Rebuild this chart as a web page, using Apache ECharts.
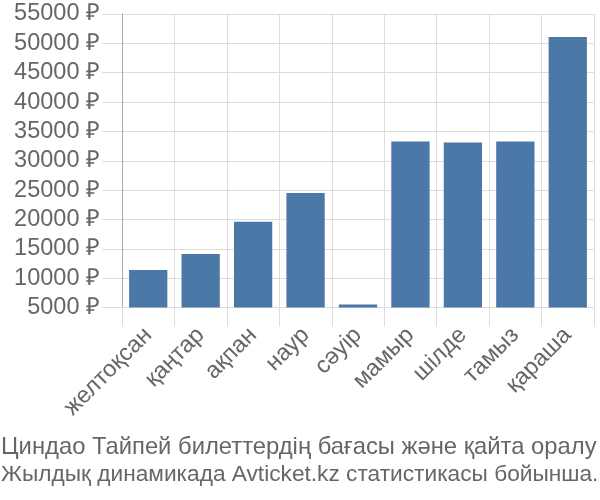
<!DOCTYPE html>
<html><head><meta charset="utf-8">
<script src="https://cdn.jsdelivr.net/npm/echarts@6/dist/echarts.min.js"></script>
<style>html,body{margin:0;padding:0;background:#fff}#c{width:600px;height:500px}</style>
</head><body><div id="c"></div>
<script>
const categories = ['желтоқсан','қаңтар','ақпан','наур','сәуір','мамыр','шілде','тамыз','қараша'];
const prices = [11400, 14100, 19600, 24500, 5500, 33300, 33100, 33300, 51100];
const yMin = 5000, yMax = 55000, yStep = 5000;
const titleLines = ['Циндао Тайпей билеттердің бағасы және қайта оралу', 'Жылдық динамикада Avticket.kz статистикасы бойынша.'];

const FONT = 'Liberation Sans, Arial, sans-serif';
const chart = echarts.init(document.getElementById('c'));
chart.setOption({
  animation: false,
  textStyle: { fontFamily: FONT },
  title: [
    { text: titleLines[0], left: 1, top: 433, padding: 0,
      textStyle: { fontSize: 23.8, fontWeight: 'normal', color: '#666', lineHeight: 28, fontFamily: FONT } },
    { text: titleLines[1], left: 1, top: 461, padding: 0,
      textStyle: { fontSize: 22.7, fontWeight: 'normal', color: '#666', lineHeight: 28, fontFamily: FONT } }
  ],
  grid: { left: 122, right: 6, top: 14, bottom: 192.5, containLabel: false },
  xAxis: {
    type: 'category', data: categories,
    axisLine: { show: false },
    axisTick: { show: true, length: 19, alignWithLabel: false, lineStyle: { color: '#ddd', width: 1 } },
    splitLine: { show: true, lineStyle: { color: '#ddd', width: 1 } },
    axisLabel: { rotate: 45, fontSize: 23.5, color: '#666', margin: 24, interval: 0 }
  },
  yAxis: {
    type: 'value', min: yMin, max: yMax, interval: yStep,
    axisLine: { show: true, lineStyle: { color: '#aaa', width: 1 } },
    axisTick: { show: true, length: 20, lineStyle: { color: '#ddd' } },
    splitLine: { show: true, lineStyle: { color: '#ddd', width: 1 } },
    axisLabel: { fontSize: 23.5, color: '#666', margin: 22, formatter: v => v + ' ₽' }
  },
  series: [{
    type: 'bar', data: prices, barCategoryGap: '27%',
    itemStyle: { color: '#4c78a8' }
  }]
});
</script></body></html>
